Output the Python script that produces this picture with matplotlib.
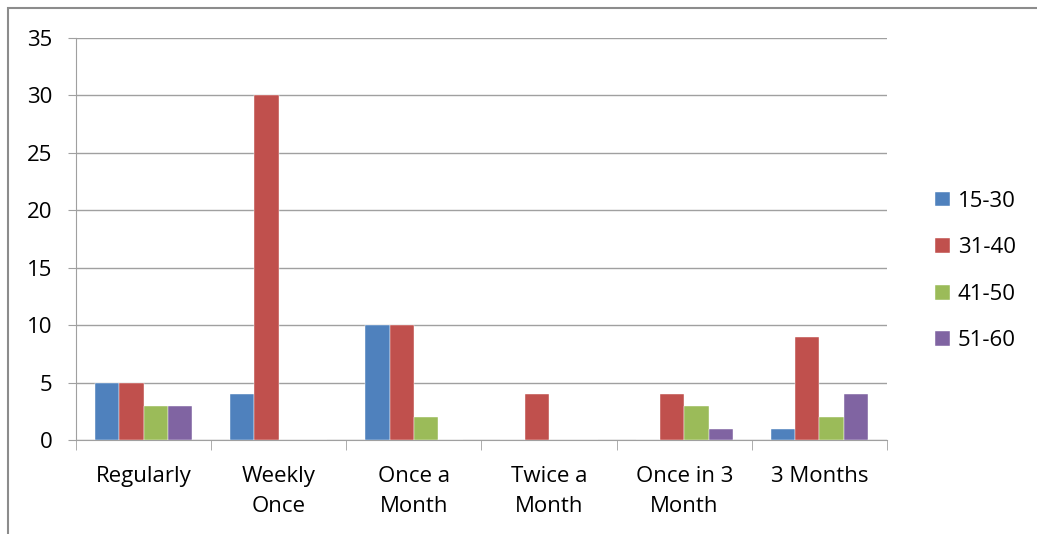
import matplotlib.pyplot as plt
import numpy as np
from matplotlib.patches import Rectangle

categories = ['Regularly', 'Weekly\nOnce', 'Once a\nMonth', 'Twice a\nMonth', 'Once in 3\nMonth', '3 Months']
age_groups = ['15-30', '31-40', '41-50', '51-60']
age_15_30 = [5, 4, 10, 0, 0, 1]
age_31_40 = [5, 30, 10, 4, 4, 9]
age_41_50 = [3, 0, 2, 0, 3, 2]
age_51_60 = [3, 0, 0, 0, 1, 4]
colors = ['#4F81BD', '#C0504D', '#9BBB59', '#8064A2']

plt.rcParams['font.family'] = ['Open Sans', 'DejaVu Sans']
fs = 16

fig = plt.figure(figsize=(10.37, 5.34), dpi=100)
ax = fig.add_axes([76 / 1037, 1 - 440 / 534, 811 / 1037, 402 / 534])

# outer chart frame (left and top edges visible)
fig.patches.append(Rectangle((8 / 1037, -0.1), 1.5, (1 - 8 / 534) + 0.1,
                             transform=fig.transFigure, fill=False,
                             edgecolor='#8C8C8C', linewidth=1.5))

x = np.arange(len(categories))
width = 0.18
series = [age_15_30, age_31_40, age_41_50, age_51_60]
for i, (vals, c, lab) in enumerate(zip(series, colors, age_groups)):
    ax.bar(x + (i - 1.5) * width, vals, width, color=c, label=lab,
           edgecolor='white', linewidth=0.3, zorder=3)

ax.set_xlim(-0.5, len(categories) - 0.5)
ax.set_ylim(0, 35)
ax.set_yticks(range(0, 36, 5))
ax.yaxis.grid(True, color='#A0A0A0', linewidth=1, zorder=0)
ax.tick_params(axis='y', length=5.8, color='#A0A0A0', labelsize=fs, pad=11)
ax.set_xticks(x)
ax.set_xticklabels(categories, fontsize=fs, linespacing=1.55)
ax.tick_params(axis='x', length=0, pad=19)
ax.set_xticks(np.arange(-0.5, len(categories)), minor=True)
ax.tick_params(axis='x', which='minor', length=7, color='#A0A0A0')

for s in ['top', 'right']:
    ax.spines[s].set_visible(False)
ax.spines['left'].set_color('#A0A0A0')
ax.spines['bottom'].set_color('#A0A0A0')

ax.legend(loc='center left', bbox_to_anchor=(1.035, 0.42), frameon=False,
          fontsize=fs, handlelength=0.65, handleheight=0.65, handletextpad=0.35,
          labelspacing=1.15)

plt.savefig('out.png')
